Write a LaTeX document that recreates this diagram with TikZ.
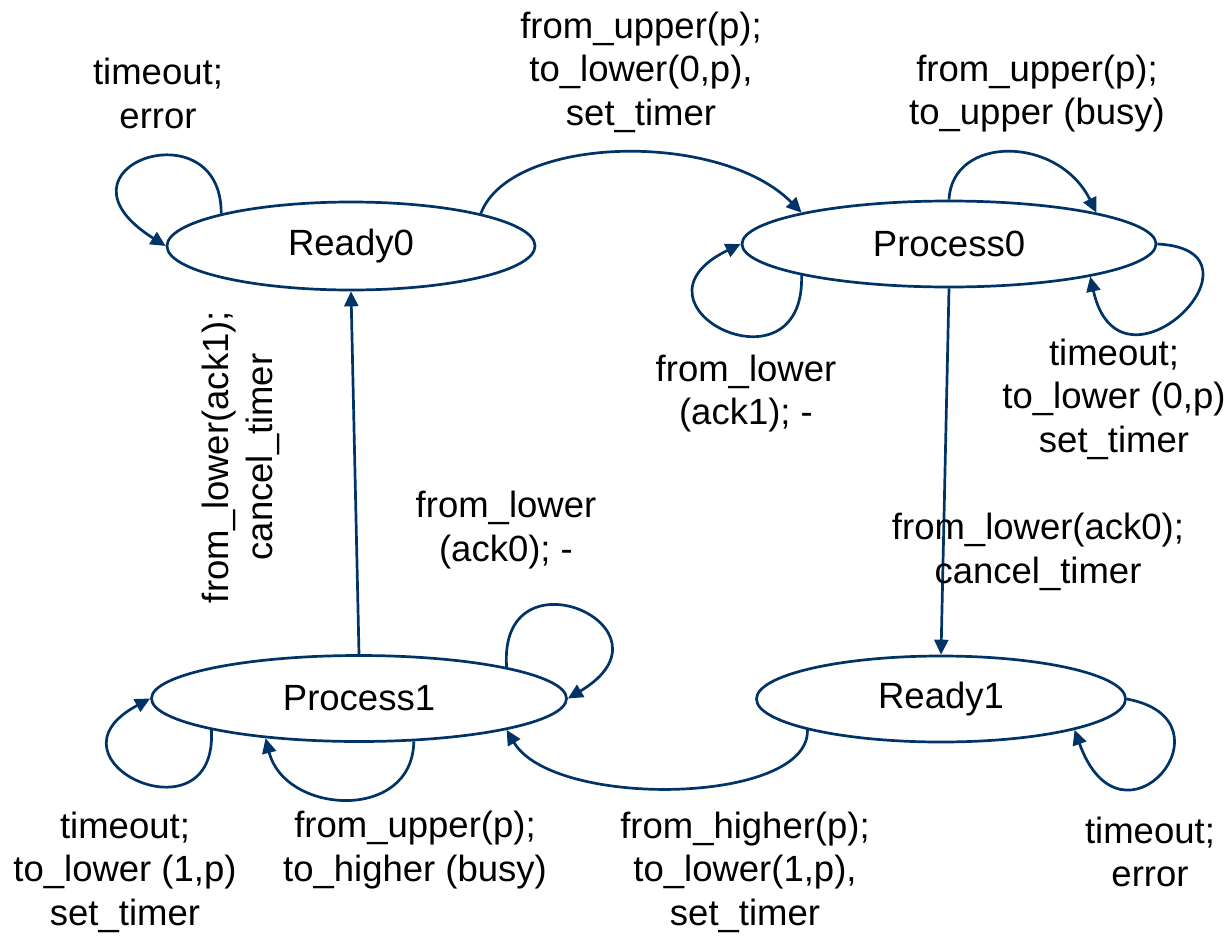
\documentclass[tikz,border=0pt]{standalone}
\usepackage{fontspec}
\setmainfont{Liberation Sans}
\usetikzlibrary{arrows.meta,shapes.geometric}
\definecolor{navy}{RGB}{0,51,102}
\begin{document}
\begin{tikzpicture}[x=1pt,y=-1pt,
  state/.style={ellipse,draw=navy,line width=2.7pt,inner sep=0pt,
    font=\fontsize{36.5}{43}\selectfont},
  lbl/.style={align=center,inner sep=0pt,font=\fontsize{36.5}{43.5}\selectfont},
  edge/.style={draw=navy,line width=2.7pt,
    -{Triangle[length=15pt,width=14pt]}}]
\useasboundingbox (0,0) rectangle (1229,935);
% states
\node[state,minimum width=368pt,minimum height=88pt] (r0) at (351,246) {Ready0};
\node[state,minimum width=414pt,minimum height=86pt] (p0) at (949,244) {Process0};
\node[state,minimum width=415pt,minimum height=86pt] (p1) at (359,698.5) {Process1};
\node[state,minimum width=369pt,minimum height=86pt] (r1) at (941,699) {Ready1};
% connectors
\draw[edge] (r0.166) .. controls (222,105) and (40,167) .. (r0.west);
\draw[edge] (r0.14) .. controls (510,135) and (720,130) .. (p0.168);
\draw[edge] (p0.192) .. controls (805,400) and (615,305) .. (p0.west);
\draw[edge] (p0.north) .. controls (952,135) and (1058,135) .. (p0.12);
\draw[edge] (p0.east) .. controls (1280,250) and (1120,410) .. (p0.347);
\draw[edge] (p0.south) -- (r1.north);
\draw[edge] (p1.north) -- (r0.south);
\draw[edge] (p1.12) .. controls (498,545) and (686,628) .. (p1.east);
\draw[edge] (p1.192) .. controls (218,845) and (35,760) .. (p1.west);
\draw[edge] (p1.322.5) .. controls (413,822) and (285,815) .. (p1.203);
\draw[edge] (r1.193) .. controls (810,805) and (553,809) .. (p1.348);
\draw[edge] (r1.east) .. controls (1240,720) and (1122,862) .. (r1.347);
% labels
\node[lbl] (lr0) at (158,93.5) {timeout;\\error};
\node[lbl] (ltop) at (641,72) {from\_upper(p);\\to\_lower(0,p),\\set\_timer};
\node[lbl] (lp0t) at (1037,93.5) {from\_upper(p);\\to\_upper (busy)};
\node[lbl] (lp0l) at (746,393.5) {from\_lower\\(ack1); -};
\node[lbl] (lp0r) at (1114,399) {timeout;\\to\_lower (0,p)\\set\_timer};
\node[lbl] (lp0r1) at (1038,552) {from\_lower(ack0);\\cancel\_timer};
\node[lbl,rotate=90] (lp1r0) at (241,457) {from\_lower(ack1);\\cancel\_timer};
\node[lbl] (lp1tr) at (506,530) {from\_lower\\(ack0); -};
\node[lbl] (lp1l) at (125,872) {timeout;\\to\_lower (1,p)\\set\_timer};
\node[lbl] (lp1b) at (415,850) {from\_upper(p);\\to\_higher (busy)};
\node[lbl] (larc) at (745,872) {from\_higher(p);\\to\_lower(1,p),\\set\_timer};
\node[lbl] (lr1) at (1150,852) {timeout;\\error};
\end{tikzpicture}
\end{document}
